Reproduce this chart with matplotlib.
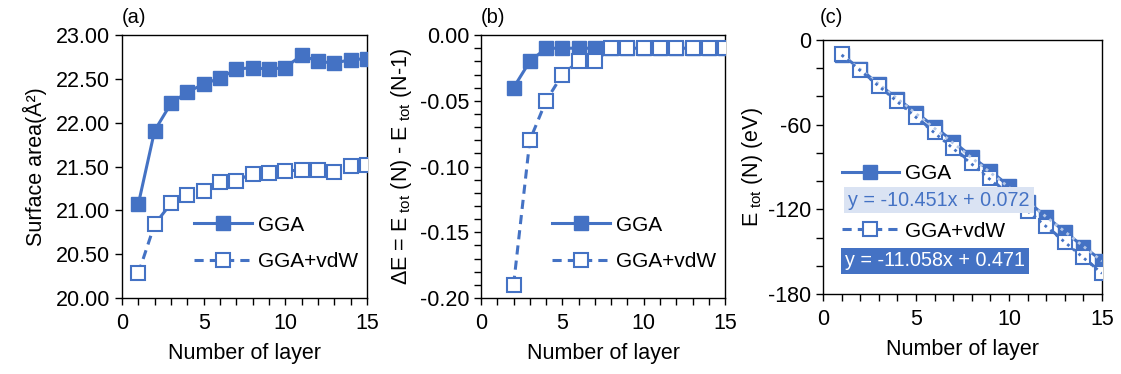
import numpy as np
import matplotlib
matplotlib.use("Agg")
import matplotlib.pyplot as plt
from matplotlib.ticker import MultipleLocator, FormatStrFormatter

plt.rcParams['font.family'] = ['Liberation Sans', 'DejaVu Sans']
plt.rcParams['mathtext.fontset'] = 'custom'
plt.rcParams['mathtext.rm'] = 'Liberation Sans'
plt.rcParams['axes.unicode_minus'] = False

BLUE = '#4472C4'
LIGHT = '#DAE3F3'

layers = np.arange(1, 16)

# (a) surface area per layer count
area_gga = [21.07, 21.91, 22.22, 22.35, 22.44, 22.51, 22.61, 22.63, 22.61,
            22.63, 22.77, 22.70, 22.68, 22.72, 22.73]
area_vdw = [20.28, 20.84, 21.08, 21.17, 21.22, 21.32, 21.34, 21.42, 21.43,
            21.45, 21.46, 21.46, 21.44, 21.51, 21.52]

# (b) energy difference between N and N-1 layers
de_layers = np.arange(2, 16)
de_gga = [-0.04, -0.02, -0.01, -0.01, -0.01, -0.01, -0.01, -0.01, -0.01,
          -0.01, -0.01, -0.01, -0.01, -0.01]
de_vdw = [-0.19, -0.08, -0.05, -0.03, -0.02, -0.02, -0.01, -0.01, -0.01,
          -0.01, -0.01, -0.01, -0.01, -0.01]

# (c) total energy and linear fits
etot_gga = [-10.4, -20.5, -31.4, -41.6, -51.5, -61.4, -72.0, -82.7, -92.8,
            -103.5, -114.5, -125.2, -135.8, -146.5, -156.4]
etot_vdw = [-9.9, -21.3, -32.4, -43.2, -54.3, -65.4, -76.3, -87.4, -98.0,
            -109.9, -121.0, -131.8, -142.9, -154.0, -165.4]
fit_gga = (-10.451, 0.072)
fit_vdw = (-11.058, 0.471)

FS = 15.5
LFS = 15
EFS = 14.2
MS = 10

fig = plt.figure(figsize=(11.21, 3.74), dpi=100)
ax_a = fig.add_axes([0.1088, 0.2032, 0.2186, 0.703])
ax_b = fig.add_axes([0.4291, 0.2032, 0.2177, 0.703])
ax_c = fig.add_axes([0.7342, 0.2139, 0.2489, 0.679])


def draw_pair(ax, x1, y1, x2, y2):
    ax.plot(x1, y1, '-', color=BLUE, lw=2.2, marker='s', ms=MS,
            mfc=BLUE, mec=BLUE, label='GGA', zorder=3)
    ax.plot(x2, y2, '--', color=BLUE, lw=2.2, marker='s', ms=MS,
            mfc='white', mec=BLUE, mew=1.5, label='GGA+vdW', zorder=4,
            dashes=(3, 2))


def style(ax):
    ax.set_xlim(0, 15)
    ax.xaxis.set_major_locator(MultipleLocator(5))
    ax.xaxis.set_minor_locator(MultipleLocator(1))
    ax.tick_params(which='both', direction='out', labelsize=FS, width=1)
    ax.tick_params(which='major', length=5)
    ax.tick_params(which='minor', length=5)
    ax.tick_params(axis='x', pad=6)
    ax.set_xlabel('Number of layer', fontsize=FS, labelpad=6)
    for s in ax.spines.values():
        s.set_linewidth(1.0)


def legend(ax, **kw):
    ax.legend(frameon=False, fontsize=LFS, handlelength=2.75,
              handletextpad=0.3, **kw)


# panel (a)
draw_pair(ax_a, layers, area_gga, layers, area_vdw)
style(ax_a)
ax_a.set_ylim(20, 23)
ax_a.yaxis.set_major_locator(MultipleLocator(0.5))
ax_a.yaxis.set_major_formatter(FormatStrFormatter('%.2f'))
ax_a.set_ylabel('Surface area(Å²)', fontsize=FS, labelpad=6)
legend(ax_a, loc='lower right', bbox_to_anchor=(1.04, 0.03), labelspacing=0.85)
ax_a.text(0.0, 1.03, '(a)', transform=ax_a.transAxes, fontsize=14.5,
          ha='left', va='bottom')

# panel (b)
draw_pair(ax_b, de_layers, de_gga, de_layers, de_vdw)
style(ax_b)
ax_b.set_ylim(-0.20, 0.0)
ax_b.yaxis.set_major_locator(MultipleLocator(0.05))
ax_b.yaxis.set_minor_locator(MultipleLocator(0.01))
ax_b.yaxis.set_major_formatter(FormatStrFormatter('%.2f'))
ax_b.set_ylabel(r'ΔE = E$_{\mathrm{\ tot}}$ (N) - E$_{\mathrm{\ tot}}$ (N-1)',
                fontsize=FS, labelpad=4)
legend(ax_b, loc='lower right', bbox_to_anchor=(1.04, 0.03), labelspacing=0.85)
ax_b.text(0.0, 1.03, '(b)', transform=ax_b.transAxes, fontsize=14.5,
          ha='left', va='bottom')

# panel (c)
draw_pair(ax_c, layers, etot_gga, layers, etot_vdw)
xs = np.array([1, 15])
ax_c.plot(xs, fit_gga[0] * xs + fit_gga[1], ':', color='#B4C7E7', lw=2,
          zorder=5)
ax_c.plot(xs, fit_vdw[0] * xs + fit_vdw[1], ':', color=BLUE, lw=2, zorder=5)
style(ax_c)
ax_c.set_ylim(-180, 0)
ax_c.yaxis.set_major_locator(MultipleLocator(60))
ax_c.yaxis.set_minor_locator(MultipleLocator(20))
ax_c.set_ylabel(r'E$_{\mathrm{\ tot}}$ (N) (eV)', fontsize=FS, labelpad=2)
legend(ax_c, loc='upper left', bbox_to_anchor=(0.0, 0.585), labelspacing=1.85)
ax_c.text(0.09, 0.37, 'y = -10.451x + 0.072', transform=ax_c.transAxes,
          fontsize=EFS, color=BLUE, ha='left', va='center', zorder=6,
          bbox=dict(boxstyle='square,pad=0.2', fc=LIGHT, ec='none'))
ax_c.text(0.08, 0.13, 'y = -11.058x + 0.471', transform=ax_c.transAxes,
          fontsize=EFS, color='white', ha='left', va='center', zorder=6,
          bbox=dict(boxstyle='square,pad=0.2', fc=BLUE, ec='none'))
ax_c.text(-0.01, 1.05, '(c)', transform=ax_c.transAxes, fontsize=14.5,
          ha='left', va='bottom')

fig.savefig('out.png', dpi=100)
